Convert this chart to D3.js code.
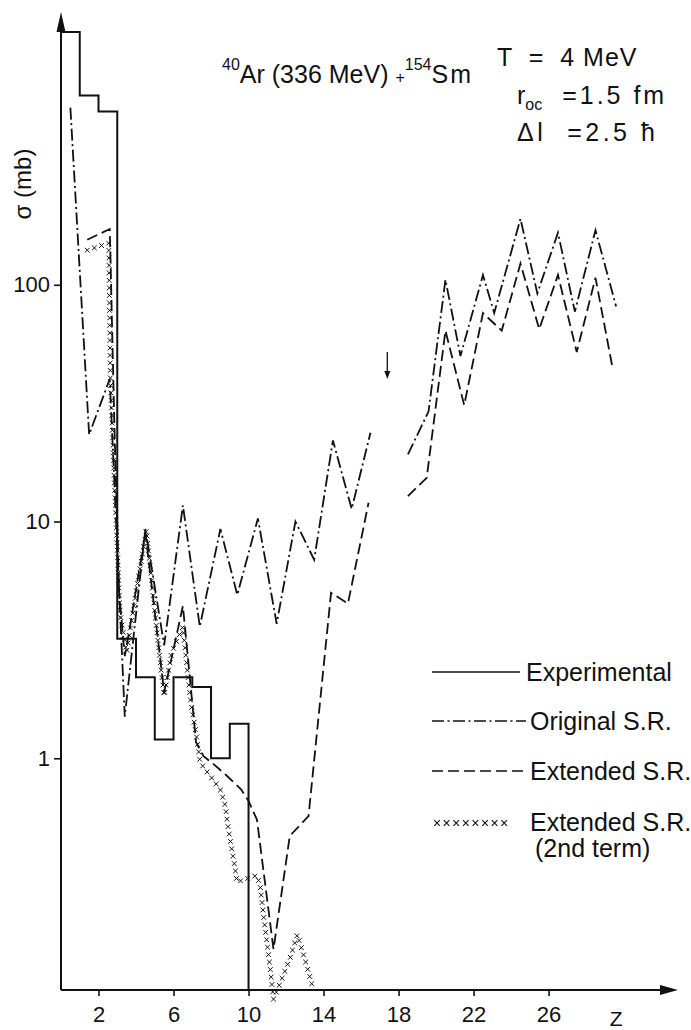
<!DOCTYPE html>
<html>
<head>
<meta charset="utf-8">
<script src="https://cdn.jsdelivr.net/npm/d3@7"></script>
<style>
  html, body { margin: 0; padding: 0; background: #fff; }
  svg text { font-family: "Liberation Sans", "DejaVu Sans", Arial, sans-serif; fill: #111; }
  svg text.pre { white-space: pre; }
</style>
</head>
<body>
<svg id="chart" width="691" height="1030"></svg>
<script>
// ---- Data: cross sections sigma (mb) versus fragment charge Z ----

// Experimental histogram: bin edges in Z and the yield of each bin
const expBinEdges = [0, 1, 2, 3, 4, 5, 6, 7, 8, 9, 10];
const expSigma    = [1170, 630, 540, 3.2, 2.2, 1.2, 2.2, 2.0, 1.0, 1.4];

// Original sum rule (dash-dot), drawn in two pieces
const origZa     = [0.5, 1.5, 2.6, 3.4, 4.5, 5.5, 6.5, 7.4, 8.5, 9.4, 10.5, 11.5, 12.5, 13.5, 14.5, 15.5, 16.5];
const origSigmaA = [560, 23.3, 40, 1.5, 9.3, 3.0, 11.7, 3.6, 9.3, 4.9, 10.3, 3.7, 10.0, 6.9, 22, 11.3, 23.7];
const origZb     = [18.5, 19.6, 20.5, 21.3, 22.5, 23.1, 24.5, 25.4, 26.5, 27.4, 28.5, 29.6];
const origSigmaB = [19.2, 29.2, 105, 50, 110, 76, 190, 92, 166, 77, 170, 81];

// Extended sum rule (dashed), two pieces
const extZa     = [1.4, 2.6, 2.85, 3.1, 3.4, 3.6, 4.5, 5.5, 6.5, 7.2, 7.6, 8.1, 8.8, 9.6, 10.0, 10.45, 11.33, 12.2, 13.2, 14.4, 15.3, 16.4];
const extSigmaA = [155, 172, 25, 5, 2.7, 3.3, 9.0, 1.9, 4.4, 1.17, 1.02, 0.95, 0.85, 0.74, 0.66, 0.55, 0.156, 0.47, 0.57, 5.0, 4.5, 12.0];
const extZb     = [18.5, 19.5, 20.5, 21.5, 22.5, 23.5, 24.5, 25.5, 26.5, 27.5, 28.5, 29.4];
const extSigmaB = [12.8, 15.3, 64, 31, 76, 64, 123, 65, 110, 52, 107, 45];

// Extended sum rule, second term only (row of crosses)
const secZ = [1.4, 2.0, 2.55, 2.63, 2.84, 3.15, 3.5, 4.0, 4.55, 4.8, 5.1, 5.5, 5.9, 6.5, 6.9, 7.25,
              7.42, 7.96, 8.49, 8.76, 8.93, 9.11, 9.29, 9.38, 9.91, 10.45, 10.62, 10.8, 10.98, 11.16,
              11.33, 11.7, 12.2, 12.6, 13.0, 13.45];
const secSigma = [140, 145, 150, 41, 15, 4.1, 2.8, 5, 9.2, 6, 3.5, 1.83, 2.8, 3.6, 1.77, 1.2,
                  0.96, 0.84, 0.74, 0.63, 0.50, 0.41, 0.34, 0.30, 0.31, 0.32, 0.29, 0.216, 0.167, 0.129,
                  0.096, 0.113, 0.142, 0.18, 0.142, 0.106];

// Axis ticks
const xTicks = [2, 6, 10, 14, 18, 22, 26];
const yTicks = [1, 10, 100];

// Marker arrow near Z = 17
const markZ = 17.4, markFrom = 52, markTo = 40;

// Legend entries
const legendLabels = ["Experimental", "Original S.R.", "Extended S.R.", "Extended S.R."];

// ---- Scales ----
const svg = d3.select("#chart");
const x = d3.scaleLinear().domain([0, 32.9]).range([61, 678]);
const y = d3.scaleLog().domain([0.105, 1420]).range([990, 12]);

const ink = "#111";
const line = d3.line().x(d => x(d[0])).y(d => y(d[1]));
const zip = (a, b) => a.map((v, i) => [v, b[i]]);

// ---- Axes ----
const axX = svg.append("g").attr("transform", `translate(0,${y(0.105)})`)
  .call(d3.axisBottom(x).tickValues(xTicks).tickSize(6).tickPadding(10).tickFormat(d3.format("d")));
axX.select(".domain").remove();
axX.selectAll(".tick line").attr("stroke", ink).attr("stroke-width", 1.6);
axX.selectAll(".tick text").attr("font-size", 22).attr("fill", ink);

const axY = svg.append("g").attr("transform", `translate(${x(0)},0)`)
  .call(d3.axisLeft(y).tickValues(yTicks).tickSize(7).tickPadding(4).tickFormat(d3.format("d")));
axY.select(".domain").remove();
axY.selectAll(".tick line").attr("stroke", ink).attr("stroke-width", 1.6);
axY.selectAll(".tick text").attr("font-size", 22).attr("fill", ink);

// axis lines with arrow heads
svg.append("line").attr("x1", x(0)).attr("x2", 664).attr("y1", y(0.105)).attr("y2", y(0.105))
  .attr("stroke", ink).attr("stroke-width", 2);
svg.append("path").attr("d", `M678,${y(0.105)} L660,${y(0.105) - 5} L660,${y(0.105) + 5} Z`).attr("fill", ink);
svg.append("line").attr("x1", x(0)).attr("x2", x(0)).attr("y1", y(0.105)).attr("y2", 28)
  .attr("stroke", ink).attr("stroke-width", 2);
svg.append("path").attr("d", `M${x(0)},12 L${x(0) - 4.5},32 L${x(0) + 4.5},32 Z`).attr("fill", ink);

svg.append("text").attr("x", x(29.6)).attr("y", 1026).attr("text-anchor", "middle")
  .attr("font-size", 21).text("Z");

svg.append("text").attr("transform", "translate(31,184) rotate(-90)").attr("text-anchor", "middle")
  .attr("font-size", 24).text("σ (mb)");

// ---- Experimental histogram ----
const steps = [];
expSigma.forEach((v, i) => {
  steps.push([expBinEdges[i], v]);
  steps.push([expBinEdges[i + 1], v]);
});
steps.push([expBinEdges[expBinEdges.length - 1], 0.105]);
svg.append("path").datum(steps).attr("d", line)
  .attr("fill", "none").attr("stroke", ink).attr("stroke-width", 2);

// ---- Calculated curves ----
const dashDot = "12,3.5,2,3.5";
const dashed = "11,5";
[[origZa, origSigmaA], [origZb, origSigmaB]].forEach(([zs, vs]) => {
  svg.append("path").datum(zip(zs, vs)).attr("d", line)
    .attr("fill", "none").attr("stroke", ink).attr("stroke-width", 1.8)
    .attr("stroke-dasharray", dashDot);
});
[[extZa, extSigmaA], [extZb, extSigmaB]].forEach(([zs, vs]) => {
  svg.append("path").datum(zip(zs, vs)).attr("d", line)
    .attr("fill", "none").attr("stroke", ink).attr("stroke-width", 1.8)
    .attr("stroke-dasharray", dashed);
});

// second term: crosses laid along its curve
const secPath = svg.append("path").datum(zip(secZ, secSigma)).attr("d", line)
  .attr("fill", "none").attr("stroke", "none");
const secNode = secPath.node();
const secLen = secNode.getTotalLength();
const crossSym = d3.symbol(d3.symbolX, 16);
const crossPts = d3.range(0, secLen, 7.5).map(l => secNode.getPointAtLength(l));
svg.append("g").selectAll("path").data(crossPts).join("path")
  .attr("transform", p => `translate(${p.x},${p.y})`)
  .attr("d", crossSym).attr("fill", "none").attr("stroke", ink).attr("stroke-width", 1);

// ---- Arrow marking Z ~ 17 ----
svg.append("line").attr("x1", x(markZ)).attr("x2", x(markZ)).attr("y1", y(markFrom)).attr("y2", y(markTo) - 4)
  .attr("stroke", ink).attr("stroke-width", 1.3);
svg.append("path").attr("d", `M${x(markZ)},${y(markTo)} l-3,-8 l6,0 Z`).attr("fill", ink);

// ---- Title and parameters ----
const title = svg.append("text").attr("x", 222).attr("y", 83).attr("font-size", 25);
title.append("tspan").attr("font-size", 16).attr("dy", -13).text("40");
title.append("tspan").attr("dy", 13).text("Ar (336 MeV) ");
title.append("tspan").attr("font-size", 16).text("+");
title.append("tspan").attr("font-size", 16).attr("dy", -13).text("154");
title.append("tspan").attr("dy", 13).attr("letter-spacing", 2).text("Sm");

svg.append("text").attr("class", "pre").attr("x", 497).attr("y", 66).attr("font-size", 25)
  .attr("letter-spacing", 1).text("T  =  4 MeV");
const roc = svg.append("text").attr("class", "pre").attr("x", 517).attr("y", 104).attr("font-size", 25);
roc.append("tspan").text("r");
roc.append("tspan").attr("font-size", 16).attr("dy", 6).text("oc");
roc.append("tspan").attr("dy", -6).attr("letter-spacing", 3).text("  =1.5 fm");
svg.append("text").attr("class", "pre").attr("x", 517).attr("y", 141).attr("font-size", 25)
  .attr("letter-spacing", 3.5).text("Δl  =2.5 ħ");

// ---- Legend ----
const legY = [672, 721, 771, 822];
const legStyles = [null, dashDot, dashed];
legStyles.forEach((dash, i) => {
  svg.append("line").attr("x1", 432).attr("x2", i === 0 ? 520 : 526).attr("y1", legY[i]).attr("y2", legY[i])
    .attr("stroke", ink).attr("stroke-width", 1.6)
    .attr("stroke-dasharray", dash);
});
svg.append("g").selectAll("path").data(d3.range(8)).join("path")
  .attr("transform", i => `translate(${437 + i * 9.6},${legY[3] + 1})`)
  .attr("d", d3.symbol(d3.symbolX, 22)).attr("fill", "none").attr("stroke", ink).attr("stroke-width", 1.1);
legendLabels.forEach((t, i) => {
  svg.append("text").attr("x", i === 0 ? 526 : 530).attr("y", legY[i] + 9).attr("font-size", 25).text(t);
});
svg.append("text").attr("x", 535).attr("y", 857).attr("font-size", 25).text("(2nd term)");
</script>
</body>
</html>
